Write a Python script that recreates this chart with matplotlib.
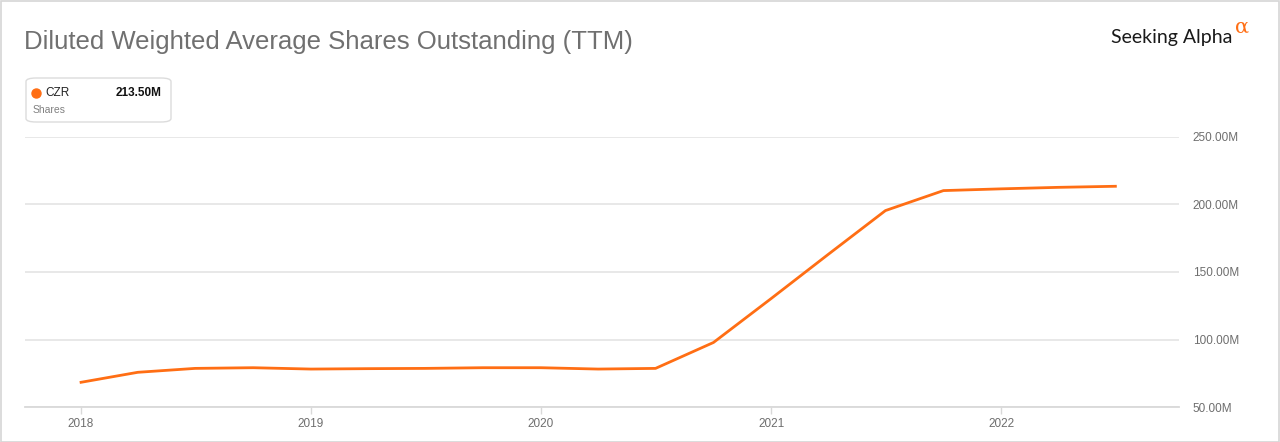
import numpy as np
import pandas as pd
import matplotlib
matplotlib.use("Agg")
import matplotlib.pyplot as plt
from matplotlib.patches import FancyBboxPatch, Rectangle

plt.rcParams['font.family'] = ['Liberation Sans', 'DejaVu Sans']

# quarterly diluted shares (millions)
dates = pd.date_range("2018-01-01", "2022-07-01", freq="QS")
shares = [68.3, 75.7, 78.6, 79.1, 78.1, 78.4, 78.6, 79.1, 79.1, 78.1,
          78.6, 97.8, 130.5, 163.0, 195.5, 210.3, 211.6, 212.7, 213.5]
y_ticks = [50, 100, 150, 200, 250]
y_labels = ["50.00M", "100.00M", "150.00M", "200.00M", "250.00M"]
year_ticks = ["2018", "2019", "2020", "2021", "2022"]

orange = "#ff6e14"
grey_text = "#6e6e6e"

fig = plt.figure(figsize=(12.8, 4.42), dpi=100)
W, H = 1280, 442

# outer border
fig.patches.append(Rectangle((0.5 / W, 0.5 / H), 1 - 1.5 / W, 1 - 1.5 / H,
                             transform=fig.transFigure, fill=False,
                             edgecolor="#d6d6d6", linewidth=1.2))

# axes in pixel coords: left 25, right 1179, top 137 (250M), bottom 407 (50M)
ax = fig.add_axes([25 / W, 1 - 407 / H, (1179 - 25) / W, (407 - 137) / H])
ax.plot(dates, shares, color=orange, linewidth=2.0, solid_joinstyle="round")

ax.set_ylim(50, 250)
ax.set_xlim(pd.Timestamp("2017-10-04"), pd.Timestamp("2022-10-10"))
ax.set_yticks(y_ticks)
ax.set_yticklabels(y_labels)
ax.yaxis.tick_right()
ax.tick_params(axis="y", length=0, pad=10, labelsize=8.5, labelcolor=grey_text)

ax.set_xticks([pd.Timestamp(f"{y}-01-01") for y in year_ticks])
ax.set_xticklabels(year_ticks)
ax.tick_params(axis="x", length=5, width=1, color="#d9d9d9", pad=3,
               labelsize=8.5, labelcolor=grey_text)

ax.grid(axis="y", color="#e6e6e6", linewidth=1.3)
ax.set_axisbelow(True)
for s in ["top", "right", "left"]:
    ax.spines[s].set_visible(False)
ax.spines["bottom"].set_color("#d9d9d9")
ax.spines["bottom"].set_linewidth(1.3)
ax.patch.set_alpha(0)

# title
fig.text(24 / W, 1 - 42 / H, "Diluted Weighted Average Shares Outstanding (TTM)",
         fontsize=18.5, color="#707070", va="center", ha="left")

# Seeking Alpha logo
fig.text(1232 / W, 1 - 38 / H, "Seeking Alpha", fontsize=14, color="#1a1a1a",
         ha="right", va="center", family=["Lato", "DejaVu Sans"])
fig.text(1235 / W, 1 - 27 / H, "\u03b1", fontsize=15, color=orange,
         ha="left", va="center", family=["DejaVu Serif"])

# legend box
fig.patches.append(FancyBboxPatch((26 / W, 1 - 122 / H), 145 / W, 44 / H,
                                  boxstyle="round,pad=0,rounding_size=0.008",
                                  transform=fig.transFigure, facecolor="white",
                                  edgecolor="#dcdcdc", linewidth=1))
fig.lines.append(plt.Line2D([36 / W], [1 - 93 / H], marker="o", markersize=6.5,
                            color=orange, transform=fig.transFigure))
fig.text(45 / W, 1 - 93 / H, "CZR", fontsize=8.5, color="#222222",
         va="center", ha="left")
fig.text(162 / W, 1 - 93 / H, "213.50M", fontsize=8.5, color="#111111",
         fontweight="bold", va="center", ha="right")
fig.text(33 / W, 1 - 110 / H, "Shares", fontsize=7.5, color="#808080",
         va="center", ha="left")

fig.savefig("out.png", dpi=100)
